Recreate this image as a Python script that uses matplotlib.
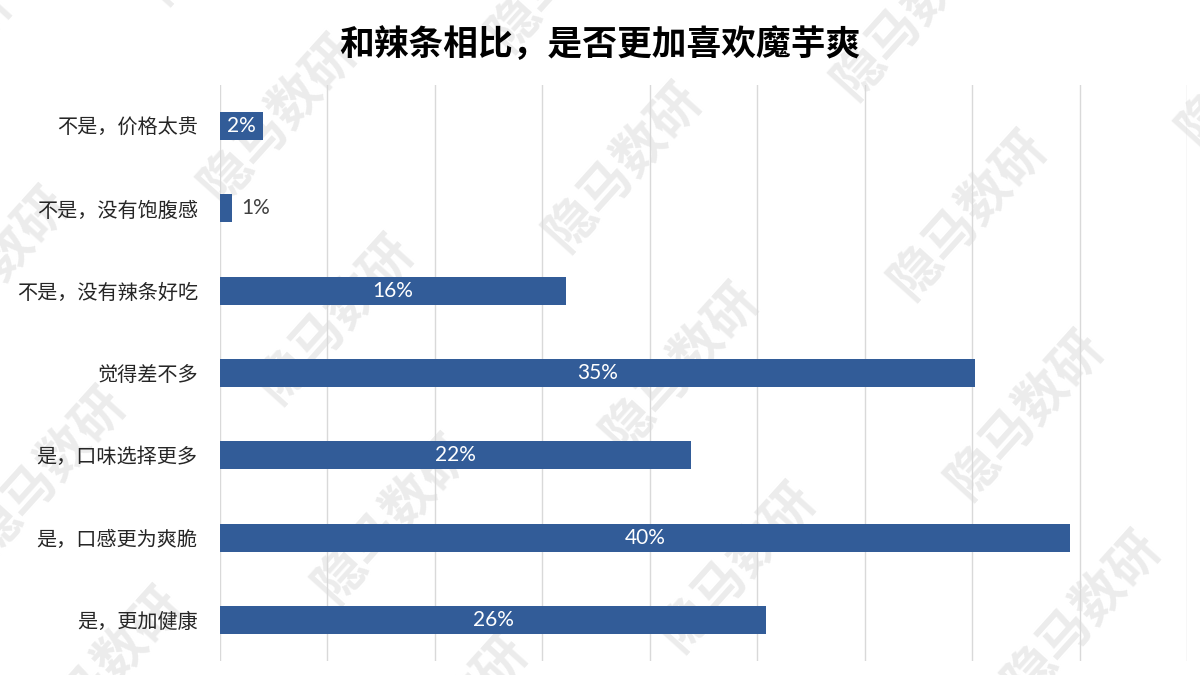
import numpy as np
import matplotlib
matplotlib.use("Agg")
import matplotlib.pyplot as plt

plt.rcParams['font.family'] = ['Noto Sans CJK SC', 'DejaVu Sans']

# data (top to bottom as in the chart)
categories = ["不是，价格太贵", "不是，没有饱腹感", "不是，没有辣条好吃",
              "觉得差不多", "是，口味选择更多", "是，口感更为爽脆", "是，更加健康"]
values = [2.0, 0.56, 16.1, 35.15, 21.93, 39.54, 25.42]   # bar lengths in %
labels = ["2%", "1%", "16%", "35%", "22%", "40%", "26%"]  # printed labels

title = "和辣条相比，是否更加喜欢魔芋爽"
watermark = "隐马数研"

BAR_COLOR = "#325c98"
GRID_COLOR = "#d9d9d9"

fig = plt.figure(figsize=(12, 6.75), dpi=100)
fig.patch.set_facecolor("white")
ax = fig.add_axes([220 / 1200, 1 - 661 / 675, (1187 - 220) / 1200, (661 - 85) / 675])
ax.set_facecolor("none")

# watermark lattice in the background
base = np.array([335.0, 318.0])
va = np.array([345.0, 48.0])
vb = np.array([57.0, 200.0])
for i in range(-2, 4):
    for j in range(-3, 4):
        cx, cy = base + i * va + j * vb
        if -150 < cx < 1350 and -150 < cy < 825:
            fig.text(cx / 1200, 1 - cy / 675, watermark, rotation=48,
                     ha="center", va="center", fontsize=37, fontweight="bold",
                     color="#ececec", zorder=-5)

y = np.arange(len(categories))
ax.barh(y, values, height=0.34, color=BAR_COLOR, zorder=3)

for yi, v, lab in zip(y, values, labels):
    if v < 1.5:
        ax.text(v + 0.45, yi, lab, ha="left", va="center", fontsize=15,
                color="#404040", family=["Lato", "DejaVu Sans"], zorder=4)
    else:
        ax.text(v / 2, yi, lab, ha="center", va="center", fontsize=15,
                color="white", family=["Lato", "DejaVu Sans"], zorder=4)

ax.set_xlim(0, 45)
ax.set_ylim(len(categories) - 0.5, -0.5)
ax.set_xticks(np.arange(0, 46, 5))
ax.set_xticklabels([])
ax.set_yticks(y)
ax.set_yticklabels(categories, fontsize=14.5, color="#262626")
ax.tick_params(axis="both", length=0)
ax.tick_params(axis="y", pad=16)
ax.grid(axis="x", color=GRID_COLOR, linewidth=1, zorder=0)
ax.set_axisbelow(True)
for s in ax.spines.values():
    s.set_visible(False)

fig.text(0.5, 1 - 45 / 675, title, ha="center", va="center",
         fontsize=25, fontweight="heavy", color="black")

fig.savefig("out.png", dpi=100)
